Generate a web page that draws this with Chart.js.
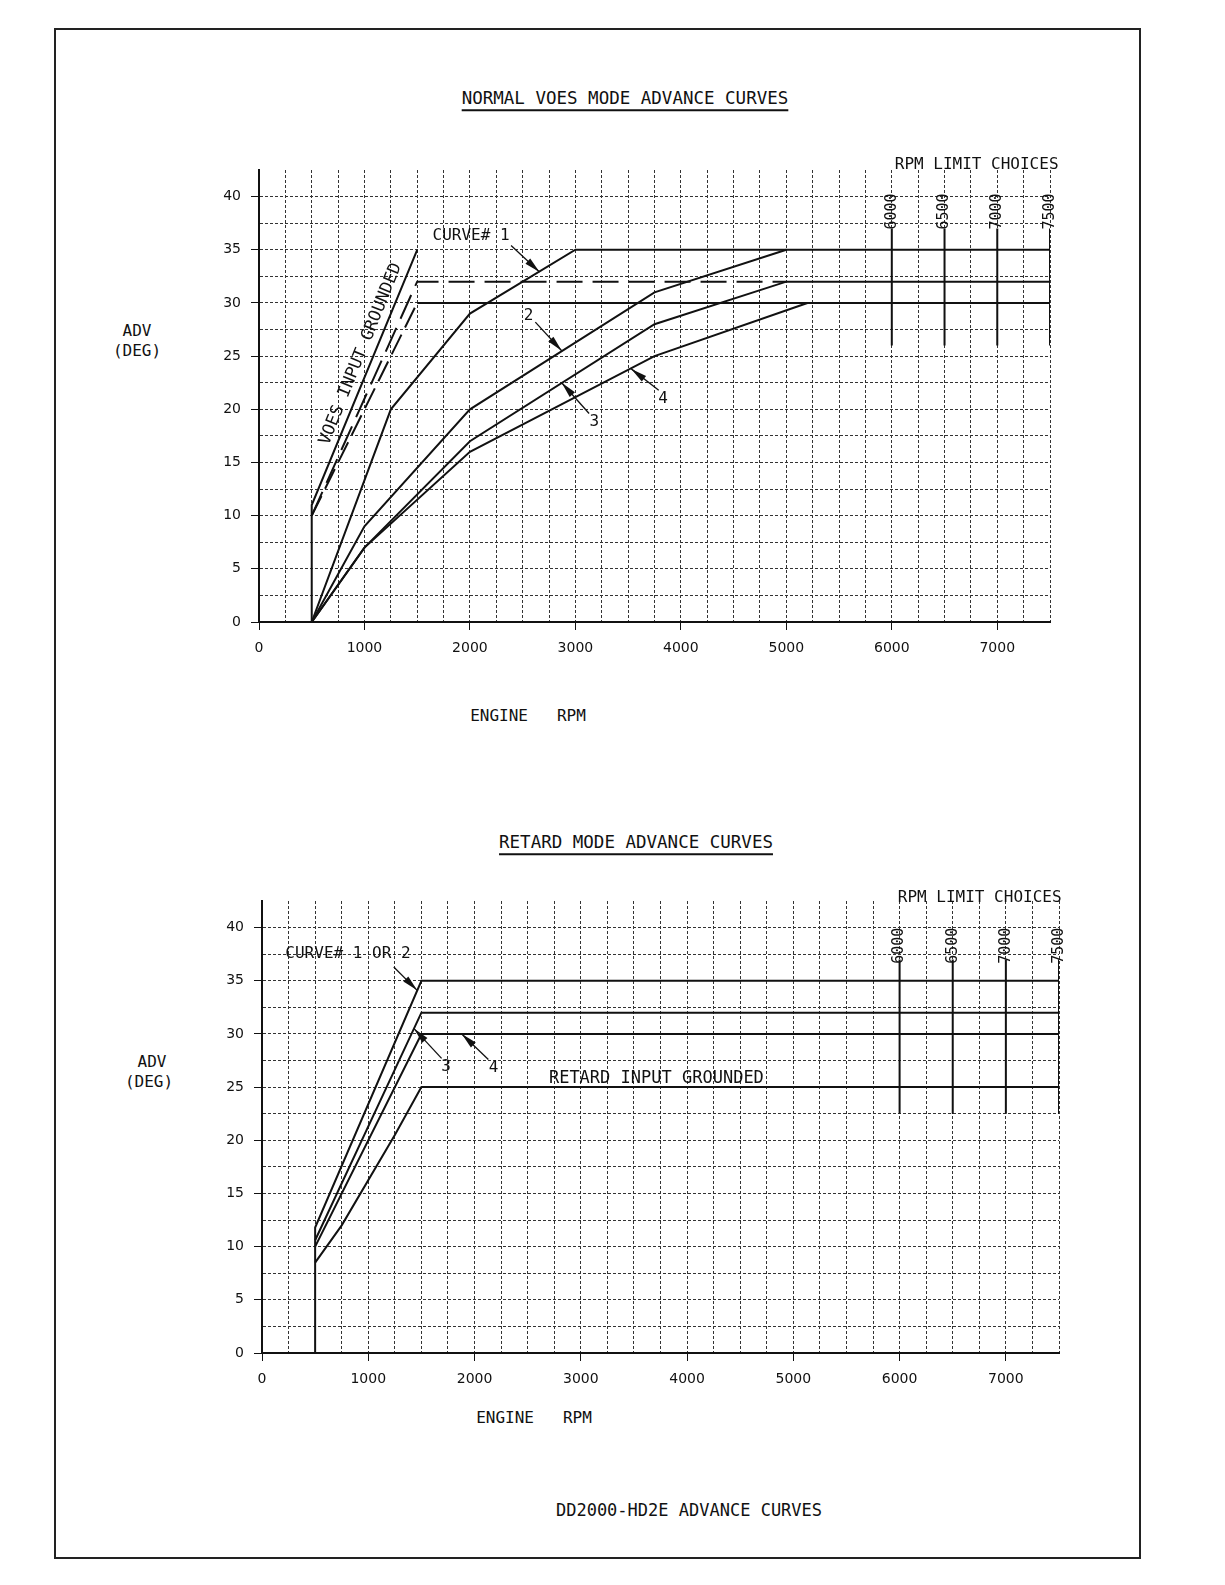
<!DOCTYPE html>
<html>
<head>
<meta charset="utf-8">
<script src="https://cdn.jsdelivr.net/npm/chart.js@4.4.1/dist/chart.umd.min.js"></script>
<style>
  html, body { margin:0; padding:0; background:#fff; width:1225px; height:1585px; overflow:hidden; }
  #page { position:relative; width:1225px; height:1585px; overflow:hidden; background:#fff;
          font-family:"DejaVu Sans Mono", monospace; color:#111; }
  .frame { position:absolute; left:54px; top:28px; width:1083px; height:1527px; border:2px solid #222; }
  .txt { position:absolute; white-space:pre; line-height:1; transform:translate(-50%,-50%); font-size:16px; }
  .title { font-size:17.5px; text-decoration:underline; text-underline-offset:5px; text-decoration-thickness:1.5px; }
  .box { position:absolute; }
</style>
</head>
<body>
<div id="page">
  <div class="frame"></div>

  <div class="txt title" style="left:625px;top:99px">NORMAL VOES MODE ADVANCE CURVES</div>
  <div class="txt" style="left:137px;top:331px">ADV</div>
  <div class="txt" style="left:137px;top:351px">(DEG)</div>
  <div class="txt" style="left:528px;top:716px">ENGINE   RPM</div>
  <div class="box" style="left:203px;top:140px"><canvas id="topChart" width="867" height="522"></canvas></div>

  <div class="txt title" style="left:636px;top:843px">RETARD MODE ADVANCE CURVES</div>
  <div class="txt" style="left:152px;top:1062px">ADV</div>
  <div class="txt" style="left:149px;top:1082px">(DEG)</div>
  <div class="txt" style="left:534px;top:1418px">ENGINE   RPM</div>
  <div class="box" style="left:206px;top:871px"><canvas id="bottomChart" width="873" height="522"></canvas></div>

  <div class="txt" style="left:689px;top:1510px;font-size:17px">DD2000-HD2E ADVANCE CURVES</div>
</div>

<script>
// ---- data: engine rpm vs ignition advance (deg) ----
const rpmLimits = [6000, 6500, 7000, 7500];

// normal VOES mode
const curve1Rpm = [500, 1250, 2000, 3000, 7500];
const curve1Adv = [0, 20, 29, 35, 35];
const curve2Rpm = [500, 1000, 2000, 3750, 5000];
const curve2Adv = [0, 9, 20, 31, 35];
const curve3Rpm = [500, 1000, 2000, 3750, 5000, 7500];
const curve3Adv = [0, 7, 17, 28, 32, 32];
const curve4Rpm = [500, 1000, 2000, 3750, 5200];
const curve4Adv = [0, 7, 16, 25, 30];
// VOES input grounded
const voesARpm = [500, 500, 1500];
const voesAAdv = [0, 11, 35];
const voesBRpm = [500, 1500, 5000];
const voesBAdv = [10, 32, 32];
const voesCRpm = [500, 1500];
const voesCAdv = [10, 30];
const voesFlatRpm = [1500, 7500];
const voesFlatAdv = [30, 30];

// retard mode
const ret12Rpm = [500, 500, 1500, 7500];
const ret12Adv = [0, 11.8, 35, 35];
const ret3Rpm = [500, 1500, 7500];
const ret3Adv = [10.6, 32, 32];
const ret4Rpm = [500, 1500, 7500];
const ret4Adv = [10, 30, 30];
const retGndRpm = [500, 750, 1250, 1500, 7500];
const retGndAdv = [8.5, 12, 20.5, 25, 25];

const topLimitAdv = [37, 26];
const bottomLimitAdv = [37, 22.5];

const pts = (xs, ys) => xs.map((x, i) => ({x: x, y: ys[i]}));
const FONT = '"DejaVu Sans Mono", monospace';

function line(xs, ys, dash) {
  return { data: pts(xs, ys), borderColor: '#111', borderWidth: 2, borderDash: dash || [],
           pointRadius: 0, tension: 0, fill: false, showLine: true };
}
function limitLines(range) {
  return rpmLimits.map(r => line([r, r], range));
}

const notesPlugin = {
  id: 'notes',
  afterDatasetsDraw(chart, args, opts) {
    const ctx = chart.ctx;
    const px = v => chart.scales.x.getPixelForValue(v);
    const py = v => chart.scales.y.getPixelForValue(v);
    ctx.save();
    ctx.fillStyle = '#111';
    ctx.strokeStyle = '#111';
    (opts.labels || []).forEach(n => {
      ctx.save();
      ctx.translate(px(n.x), py(n.y));
      ctx.rotate((n.rot || 0) * Math.PI / 180);
      ctx.font = (n.size || 16) + 'px ' + FONT;
      ctx.textAlign = n.align || 'center';
      ctx.textBaseline = 'middle';
      ctx.fillText(n.text, 0, 0);
      ctx.restore();
    });
    (opts.arrows || []).forEach(a => {
      const x1 = px(a[0]), y1 = py(a[1]), x2 = px(a[2]), y2 = py(a[3]);
      const ang = Math.atan2(y2 - y1, x2 - x1);
      ctx.lineWidth = 1.3;
      ctx.beginPath(); ctx.moveTo(x1, y1); ctx.lineTo(x2, y2); ctx.stroke();
      ctx.beginPath();
      ctx.moveTo(x2, y2);
      ctx.lineTo(x2 - 16 * Math.cos(ang) + 3.5 * Math.sin(ang), y2 - 16 * Math.sin(ang) - 3.5 * Math.cos(ang));
      ctx.lineTo(x2 - 16 * Math.cos(ang) - 3.5 * Math.sin(ang), y2 - 16 * Math.sin(ang) + 3.5 * Math.cos(ang));
      ctx.closePath(); ctx.fill();
    });
    ctx.restore();
  }
};

function makeChart(id, datasets, notes) {
  const tickFont = { family: '"DejaVu Sans", sans-serif', size: 14 };
  new Chart(document.getElementById(id), {
    type: 'scatter',
    data: { datasets: datasets },
    plugins: [notesPlugin],
    options: {
      responsive: false,
      animation: false,
      layout: { padding: { top: 30, right: 20, left: 0, bottom: 0 } },
      plugins: { legend: { display: false }, tooltip: { enabled: false }, notes: notes },
      scales: {
        x: {
          type: 'linear', min: 0, max: 7500,
          afterFit: s => { s.height = 40; },
          ticks: { stepSize: 250, autoSkip: false, maxRotation: 0, padding: 10, color: '#111', font: tickFont,
                   callback: v => (v % 1000 === 0 ? v : '') },
          grid: { color: c => (c.tick && c.tick.value === 0 ? 'transparent' : '#333'), lineWidth: 1,
                  tickLength: 8, tickColor: c => (c.tick && c.tick.value % 1000 === 0 ? '#111' : 'transparent') },
          border: { display: true, color: '#111', width: 2, dash: [3, 2] }
        },
        y: {
          min: 0, max: 42.5,
          afterFit: s => { s.width = 56; },
          ticks: { stepSize: 2.5, autoSkip: false, padding: 10, color: '#111', font: tickFont,
                   callback: v => (v % 5 === 0 ? v : '') },
          grid: { color: c => (c.tick && (c.tick.value === 0 || c.tick.value === 42.5) ? 'transparent' : '#333'),
                  lineWidth: 1, tickLength: 8,
                  tickColor: c => (c.tick && c.tick.value % 5 === 0 && c.tick.value <= 40 ? '#111' : 'transparent') },
          border: { display: true, color: '#111', width: 2, dash: [3, 2] }
        }
      }
    }
  });
}

const limitLabels = (adv) => rpmLimits.map(r => ({ text: String(r), x: r, y: adv, rot: -90, size: 15 }));

makeChart('topChart', [
  line(curve1Rpm, curve1Adv), line(curve2Rpm, curve2Adv),
  line(curve3Rpm, curve3Adv), line(curve4Rpm, curve4Adv),
  line(voesARpm, voesAAdv), line(voesBRpm, voesBAdv, [26, 10]),
  line(voesCRpm, voesCAdv, [22, 8]), line(voesFlatRpm, voesFlatAdv)
].concat(limitLines(topLimitAdv)), {
  labels: [
    { text: 'CURVE# 1', x: 2011, y: 36.3 },
    { text: '2', x: 2557, y: 28.8 },
    { text: '3', x: 3180, y: 18.8 },
    { text: '4', x: 3831, y: 21 },
    { text: 'VOES INPUT GROUNDED', x: 965, y: 25.2, rot: -68, size: 17 },
    { text: 'RPM LIMIT CHOICES', x: 6028, y: 43, align: 'left' }
  ].concat(limitLabels(38.6)),
  arrows: [
    [2390, 35.4, 2660, 32.9],
    [2620, 28.2, 2870, 25.5],
    [3130, 19.6, 2870, 22.5],
    [3790, 21.8, 3530, 23.8]
  ]
});

makeChart('bottomChart', [
  line(ret12Rpm, ret12Adv), line(ret3Rpm, ret3Adv),
  line(ret4Rpm, ret4Adv), line(retGndRpm, retGndAdv)
].concat(limitLines(bottomLimitAdv)), {
  labels: [
    { text: 'CURVE# 1 OR 2', x: 809, y: 37.5 },
    { text: '3', x: 1732, y: 26.9 },
    { text: '4', x: 2179, y: 26.8 },
    { text: 'RETARD INPUT GROUNDED', x: 2700, y: 25.8, align: 'left', size: 17 },
    { text: 'RPM LIMIT CHOICES', x: 5983, y: 42.8, align: 'left' }
  ].concat(limitLabels(38.3)),
  arrows: [
    [1240, 36.3, 1460, 34.1],
    [1690, 27.7, 1430, 30.5],
    [2130, 27.6, 1880, 30]
  ]
});
</script>
</body>
</html>
